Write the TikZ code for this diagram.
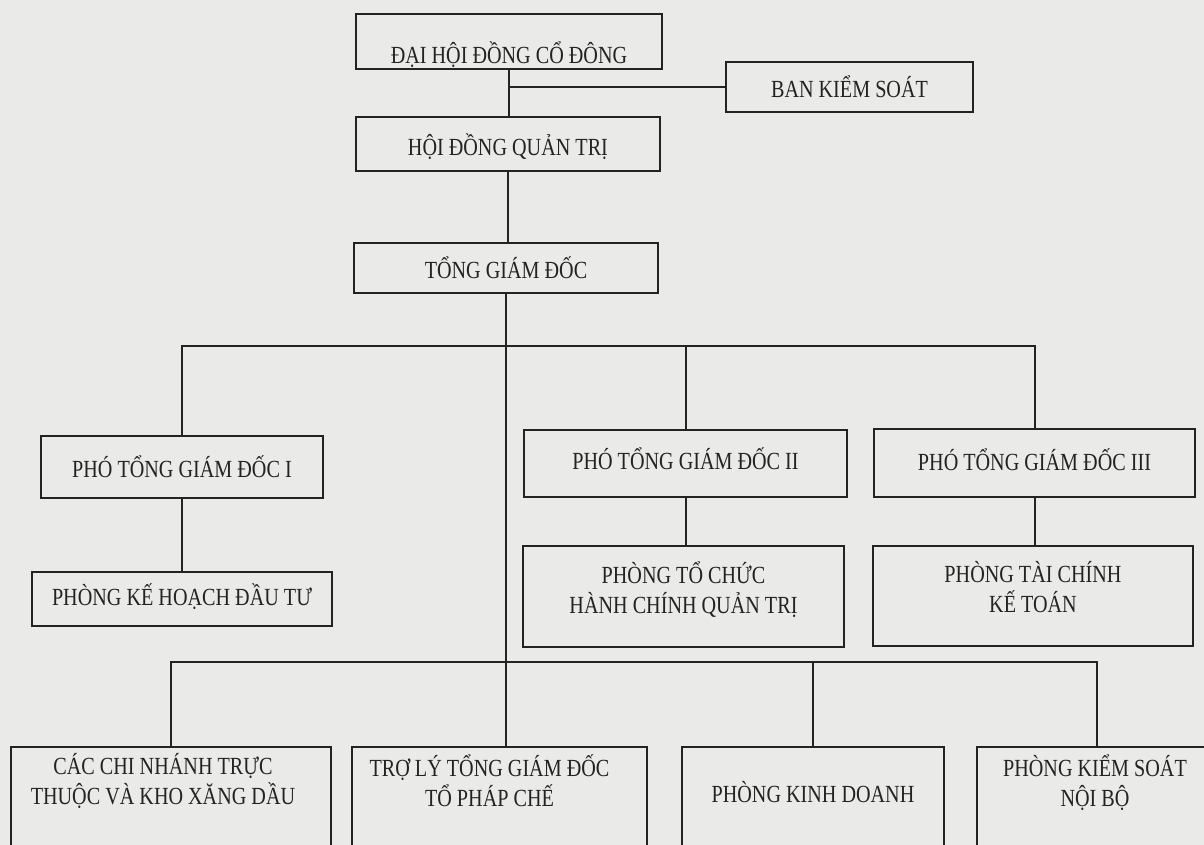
\documentclass[tikz,border=0pt]{standalone}
\usepackage{fontspec}
\setmainfont{Liberation Serif}[FakeStretch=0.82]
\definecolor{paper}{RGB}{234,234,232}
\definecolor{ink}{RGB}{35,35,35}
\begin{document}
\begin{tikzpicture}[x=0.5pt,y=-0.5pt,
  box/.style={draw=ink, line width=1pt, rectangle, inner sep=0pt},
  txt/.style={text=ink, align=center, inner sep=0pt, font=\fontsize{12.3}{15}\selectfont},
  conn/.style={draw=ink, line width=1pt}]
\useasboundingbox (0,0) rectangle (1204,845);
\fill[paper] (0,0) rectangle (1204,845);
\clip (0,0) rectangle (1204,845);

% boxes
\node[box, minimum width=153pt, minimum height=27.5pt] (dh) at (509,41.5) {};
\node[txt] (dht) at ([yshift=-6.75pt]dh.center) {ĐẠI HỘI ĐỒNG CỔ ĐÔNG};

\node[box, minimum width=123.5pt, minimum height=25pt] (bks) at (849.5,87) {};
\node[txt] (bkst) at (bks.center) {BAN KIỂM SOÁT};

\node[box, minimum width=152pt, minimum height=27pt] (hq) at (508,144) {};
\node[txt] (hqt) at ([yshift=-1.3pt]hq.center) {HỘI ĐỒNG QUẢN TRỊ};

\node[box, minimum width=152pt, minimum height=25pt] (tg) at (506,268) {};
\node[txt] (tgt) at (tg.center) {TỔNG GIÁM ĐỐC};

\node[box, minimum width=141pt, minimum height=31pt] (p1) at (182,467) {};
\node[txt] (p1t) at (p1.center) {PHÓ TỔNG GIÁM ĐỐC I};

\node[box, minimum width=150pt, minimum height=27pt] (pk) at (182,598.5) {};
\node[txt] (pkt) at ([yshift=0.9pt]pk.center) {PHÒNG KẾ HOẠCH ĐẦU TƯ};

\node[box, minimum width=161.5pt, minimum height=33.5pt] (p2) at (685.5,463.5) {};
\node[txt] (p2t) at ([yshift=2.4pt]p2.center) {PHÓ TỔNG GIÁM ĐỐC II};

\node[box, minimum width=160.5pt, minimum height=50.5pt] (ptc) at (683.5,596.5) {};
\node[txt] (ptct) at ([yshift=3.6pt]ptc.center) {PHÒNG TỔ CHỨC\\HÀNH CHÍNH QUẢN TRỊ};

\node[box, minimum width=160.5pt, minimum height=34pt] (p3) at (1034.5,463) {};
\node[txt] (p3t) at ([yshift=1.8pt]p3.center) {PHÓ TỔNG GIÁM ĐỐC III};

\node[box, minimum width=160pt, minimum height=50pt] (ptk) at (1033,596) {};
\node[txt] (ptkt) at ([yshift=4.7pt]ptk.center) {PHÒNG TÀI CHÍNH\\KẾ TOÁN};

\node[box, minimum width=160pt, minimum height=61.5pt] (cn) at (171,808.5) {};
\node[txt] (cnt) at ([yshift=13.75pt,xshift=-4pt]cn.center) {CÁC CHI NHÁNH TRỰC\\THUỘC VÀ KHO XĂNG DẦU};

\node[box, minimum width=147.5pt, minimum height=61.5pt] (tl) at (499.5,808.5) {};
\node[txt] (tlt) at ([yshift=13.75pt,xshift=-5pt]tl.center) {TRỢ LÝ TỔNG GIÁM ĐỐC\\TỔ PHÁP CHẾ};

\node[box, minimum width=131pt, minimum height=61.5pt] (kd) at (813,808.5) {};
\node[txt] (kdt) at ([yshift=8.25pt]kd.center) {PHÒNG KINH DOANH};

\node[box, minimum width=120pt, minimum height=61.5pt] (ks) at (1097,808.5) {};
\node[txt] (kst) at ([yshift=12.75pt,xshift=-1pt]ks.center) {PHÒNG KIỂM SOÁT\\NỘI BỘ};

% connectors
\coordinate (busA) at (0,346);
\coordinate (busC) at (0,662);
\draw[conn] (dh.south) -- (dh.south |- hq.north);
\draw[conn] (dh.south |- bks.west) -- (bks.west);
\draw[conn] (hq.south) -- (hq.south |- tg.north);
\draw[conn] (tg.south) -- (tg.south |- tl.north);
\draw[conn] (p1.north) -- (p1.north |- busA) -- (p3.north |- busA) -- (p3.north);
\draw[conn] (p2.north |- busA) -- (p2.north);
\draw[conn] (p1.south) -- (p1.south |- pk.north);
\draw[conn] (p2.south) -- (p2.south |- ptc.north);
\draw[conn] (p3.south) -- (p3.south |- ptk.north);
\draw[conn] (cn.north) -- (cn.north |- busC) -- (ks.north |- busC) -- (ks.north);
\draw[conn] (kd.north |- busC) -- (kd.north);
\end{tikzpicture}
\end{document}
